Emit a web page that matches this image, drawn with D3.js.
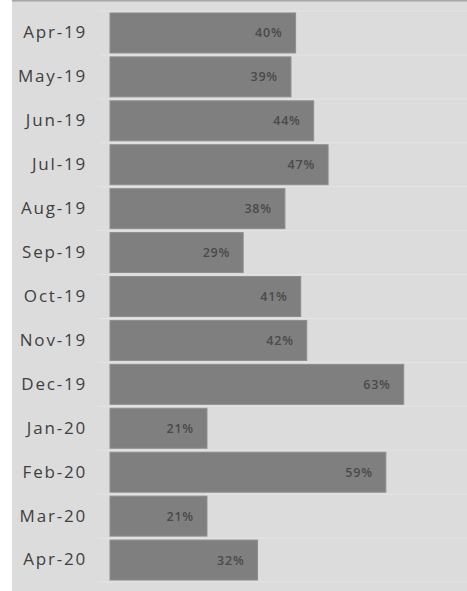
<!DOCTYPE html>
<html>
<head>
<meta charset="utf-8">
<script src="https://cdn.jsdelivr.net/npm/d3@7"></script>
<style>
  html, body { margin: 0; padding: 0; background: #ffffff; }
  svg { display: block; }
</style>
</head>
<body>
<svg id="chart" width="467" height="591"></svg>
<script>
const categories = ["Apr-19","May-19","Jun-19","Jul-19","Aug-19","Sep-19","Oct-19","Nov-19","Dec-19","Jan-20","Feb-20","Mar-20","Apr-20"];
const values = [0.400, 0.390, 0.439, 0.470, 0.377, 0.287, 0.411, 0.424, 0.633, 0.209, 0.5945, 0.209, 0.318];

const W = 467, H = 591;
const svg = d3.select("#chart");

// chart area background
svg.append("rect").attr("x", 12).attr("y", 0).attr("width", W - 12).attr("height", H).attr("fill", "#dcdcdc");
svg.append("rect").attr("x", 12).attr("y", 0).attr("width", W - 12).attr("height", 1.5).attr("fill", "#a6a6a6");

const x0 = 110;
const x = d3.scaleLinear().domain([0, 1]).range([x0, x0 + 464]);
const y = d3.scaleBand().domain(categories).range([11, 582]).paddingInner(0.09).paddingOuter(0.045);

const data = categories.map((c, i) => ({ c, v: values[i] }));

// band separators
const seps = d3.range(categories.length + 1).map(i => 11 + i * (571 / categories.length));
svg.append("g").selectAll("line").data(seps).join("line")
  .attr("x1", 98).attr("x2", W).attr("y1", d => d).attr("y2", d => d)
  .attr("stroke", "#e4e4e4").attr("stroke-width", 1);

// bars
svg.append("g").selectAll("rect").data(data).join("rect")
  .attr("x", x(0))
  .attr("y", d => y(d.c))
  .attr("width", d => x(d.v) - x(0))
  .attr("height", y.bandwidth())
  .attr("fill", "#7f7f7f")
  .attr("stroke", "#8e8e8e")
  .attr("stroke-width", 1);

// value labels
const fmt = d3.format(".0%");
svg.append("g").selectAll("text").data(data).join("text")
  .attr("x", d => x(d.v) - 13)
  .attr("y", d => y(d.c) + y.bandwidth() / 2)
  .attr("dy", "0.36em")
  .attr("text-anchor", "end")
  .attr("font-family", "'Open Sans', sans-serif")
  .attr("font-size", 12.5)
  .attr("font-weight", 600)
  .attr("letter-spacing", "0.8px")
  .attr("fill", "#4a4a4a")
  .text(d => fmt(d.v));

// category axis labels
const axis = d3.axisLeft(y).tickSize(0).tickPadding(0);
const g = svg.append("g").attr("transform", "translate(87,0)").call(axis);
g.select(".domain").remove();
g.selectAll("text")
  .attr("font-family", "'Open Sans', sans-serif")
  .attr("font-size", 17)
  .attr("letter-spacing", "1.8px")
  .attr("fill", "#404040");
</script>
</body>
</html>
